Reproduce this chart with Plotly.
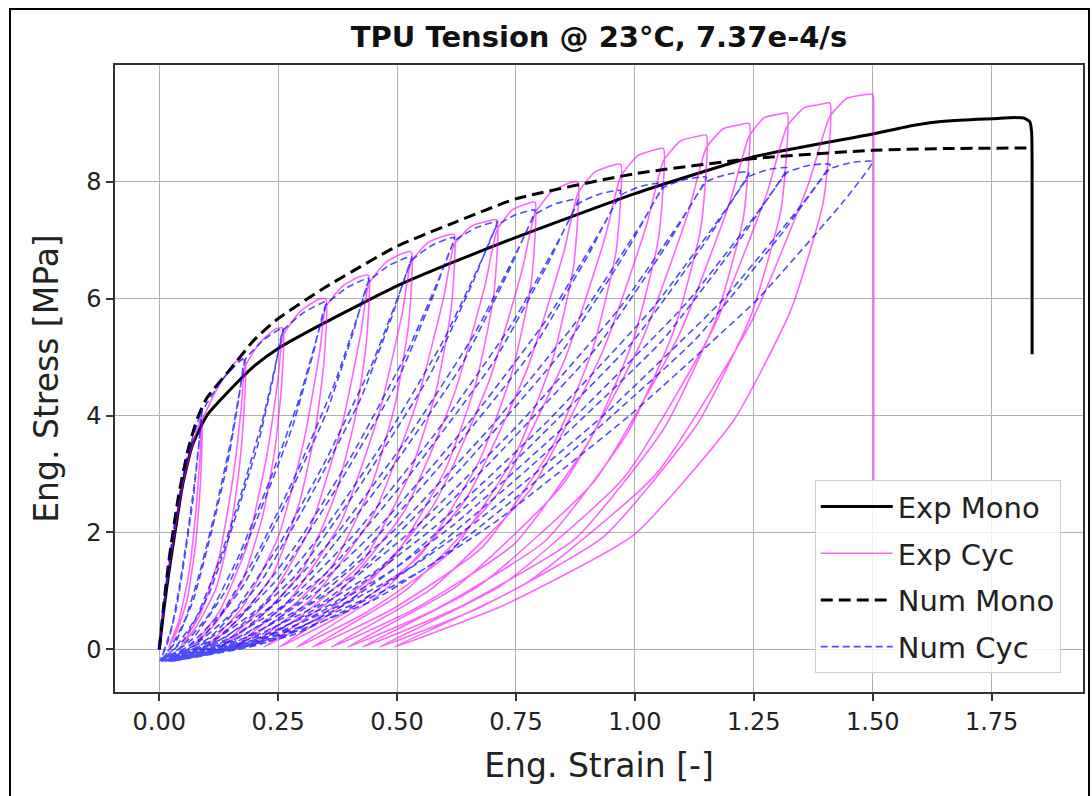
import plotly.graph_objects as go

# ---------------- data ----------------
exp_mono_strain = [0, 0.01, 0.02, 0.035, 0.05, 0.07, 0.1, 0.15, 0.2, 0.25, 0.35, 0.5, 0.61, 0.75,
                   1.0, 1.25, 1.5, 1.587, 1.657, 1.75, 1.80, 1.818, 1.830, 1.834, 1.835, 1.835]
exp_mono_stress = [0, 0.7, 1.3, 2.1, 2.85, 3.5, 4.0, 4.45, 4.85, 5.15, 5.6, 6.22, 6.6, 7.05,
                   7.8, 8.43, 8.82, 8.97, 9.04, 9.08, 9.1, 9.09, 9.03, 8.85, 8.2, 5.05]

num_mono_strain = [0, 0.01, 0.02, 0.04, 0.06, 0.08, 0.1, 0.15, 0.2, 0.25, 0.35, 0.5, 0.61, 0.75,
                   1.0, 1.25, 1.5, 1.65, 1.835]
num_mono_stress = [0, 0.8, 1.5, 2.6, 3.4, 3.95, 4.3, 4.8, 5.3, 5.66, 6.2, 6.9, 7.27, 7.71,
                   8.14, 8.4, 8.54, 8.57, 8.58]

# experimental cyclic test: one row per cycle (reload, envelope, peak, unload)
exp_cyc_strain = [
    [0, 0.01, 0.02, 0.035, 0.05, 0.07, 0.09, 0.0890, 0.0837, 0.0746, 0.0585, 0.0375, 0.020],
    [0.041, 0.062, 0.0774, 0.0865, 0.09, 0.126, 0.162, 0.18, 0.1780, 0.1679, 0.1503, 0.1193, 0.0788, 0.045],
    [0.0855, 0.126, 0.1557, 0.1733, 0.18, 0.212, 0.244, 0.26, 0.2572, 0.2429, 0.2182, 0.1745, 0.1175, 0.070],
    [0.127, 0.184, 0.2258, 0.2505, 0.26, 0.296, 0.332, 0.35, 0.3463, 0.3275, 0.2950, 0.2375, 0.1625, 0.100],
    [0.175, 0.25, 0.305, 0.3375, 0.35, 0.386, 0.422, 0.44, 0.4354, 0.4121, 0.3718, 0.3005, 0.2075, 0.130],
    [0.223, 0.316, 0.3842, 0.4245, 0.44, 0.476, 0.512, 0.53, 0.5245, 0.4967, 0.4486, 0.3635, 0.2525, 0.160],
    [0.271, 0.382, 0.4634, 0.5115, 0.53, 0.566, 0.602, 0.62, 0.6136, 0.5813, 0.5254, 0.4265, 0.2975, 0.190],
    [0.319, 0.448, 0.5426, 0.5985, 0.62, 0.656, 0.692, 0.71, 0.7027, 0.6659, 0.6022, 0.4895, 0.3425, 0.220],
    [0.367, 0.514, 0.6218, 0.6855, 0.71, 0.742, 0.774, 0.79, 0.7819, 0.7417, 0.6719, 0.5484, 0.3873, 0.253],
    [0.4141, 0.5752, 0.6933, 0.7632, 0.79, 0.826, 0.862, 0.88, 0.8711, 0.8268, 0.7500, 0.6141, 0.4368, 0.289],
    [0.4663, 0.6436, 0.7736, 0.8505, 0.88, 0.916, 0.952, 0.97, 0.9603, 0.9117, 0.8274, 0.6784, 0.4840, 0.322],
    [0.5164, 0.7108, 0.8534, 0.9376, 0.97, 1.006, 1.042, 1.06, 1.0495, 0.9972, 0.9064, 0.7459, 0.5365, 0.362],
    [0.5714, 0.7808, 0.9344, 1.0251, 1.06, 1.096, 1.132, 1.15, 1.1387, 1.0821, 0.9841, 0.8107, 0.5845, 0.396],
    [0.6222, 0.8484, 1.0143, 1.1123, 1.15, 1.186, 1.222, 1.24, 1.2278, 1.1668, 1.0611, 0.8742, 0.6303, 0.427],
    [0.6709, 0.9148, 1.0937, 1.1994, 1.24, 1.272, 1.304, 1.32, 1.3072, 1.2429, 1.1315, 0.9344, 0.6773, 0.463],
    [0.7201, 0.9772, 1.1657, 1.2772, 1.32, 1.356, 1.392, 1.41, 1.3963, 1.3276, 1.2085, 0.9978, 0.7230, 0.494],
    [0.7688, 1.0436, 1.2451, 1.3642, 1.41, 1.446, 1.482, 1.50, 1.502, 1.502],
]
exp_cyc_stress = [
    [0, 0.75, 1.35, 2.15, 2.85, 3.5, 4.0, 3.28, 2.48, 1.68, 0.84, 0.32, 0.04],
    [0.48, 1.28, 2.40, 3.40, 3.90, 4.52, 4.93, 4.95, 4.06, 3.07, 2.08, 1.04, 0.40, 0.04],
    [0.59, 1.58, 2.97, 4.21, 4.83, 5.25, 5.48, 5.50, 4.51, 3.41, 2.31, 1.16, 0.44, 0.04],
    [0.66, 1.76, 3.30, 4.68, 5.36, 5.78, 5.98, 6.00, 4.92, 3.72, 2.52, 1.26, 0.48, 0.04],
    [0.72, 1.92, 3.60, 5.10, 5.85, 6.22, 6.38, 6.40, 5.25, 3.97, 2.69, 1.34, 0.51, 0.04],
    [0.77, 2.05, 3.84, 5.44, 6.24, 6.62, 6.78, 6.80, 5.58, 4.22, 2.86, 1.43, 0.54, 0.04],
    [0.82, 2.18, 4.08, 5.78, 6.63, 6.97, 7.08, 7.10, 5.82, 4.40, 2.98, 1.49, 0.57, 0.04],
    [0.85, 2.27, 4.26, 6.04, 6.92, 7.24, 7.33, 7.35, 6.03, 4.56, 3.09, 1.54, 0.59, 0.04],
    [0.88, 2.35, 4.41, 6.25, 7.17, 7.52, 7.63, 7.65, 6.27, 4.74, 3.21, 1.61, 0.61, 0.04],
    [0.92, 2.45, 4.59, 6.50, 7.46, 7.84, 7.98, 8.00, 6.56, 4.96, 3.36, 1.68, 0.64, 0.04],
    [0.96, 2.56, 4.80, 6.80, 7.80, 8.17, 8.28, 8.30, 6.81, 5.15, 3.49, 1.74, 0.66, 0.04],
    [1.00, 2.66, 4.98, 7.06, 8.09, 8.45, 8.55, 8.57, 7.03, 5.31, 3.60, 1.80, 0.69, 0.04],
    [1.03, 2.74, 5.14, 7.28, 8.36, 8.70, 8.78, 8.80, 7.22, 5.46, 3.70, 1.85, 0.70, 0.04],
    [1.06, 2.82, 5.28, 7.48, 8.58, 8.91, 8.98, 9.00, 7.38, 5.58, 3.78, 1.89, 0.72, 0.04],
    [1.08, 2.88, 5.40, 7.65, 8.78, 9.10, 9.16, 9.18, 7.53, 5.69, 3.86, 1.93, 0.73, 0.04],
    [1.10, 2.94, 5.51, 7.80, 8.95, 9.27, 9.33, 9.35, 7.67, 5.80, 3.93, 1.96, 0.75, 0.04],
    [1.12, 2.99, 5.61, 7.95, 9.12, 9.43, 9.49, 9.50, 9.30, 2.90],
]

# numerical cyclic simulation: one row per cycle
num_cyc_strain = [
    [0, 0.01, 0.02, 0.04, 0.06, 0.09, 0.0864, 0.0756, 0.0594, 0.0423, 0.027, 0.0126, 0.0018],
    [0.018, 0.036, 0.054, 0.072, 0.0837, 0.09, 0.135, 0.18, 0.1728, 0.1512, 0.1188, 0.0846, 0.054, 0.0252, 0.0036],
    [0.036, 0.072, 0.108, 0.144, 0.1674, 0.18, 0.22, 0.26, 0.2496, 0.2184, 0.1716, 0.1222, 0.078, 0.0364, 0.0052],
    [0.052, 0.104, 0.156, 0.208, 0.2418, 0.26, 0.305, 0.35, 0.336, 0.294, 0.231, 0.1645, 0.105, 0.049, 0.007],
    [0.07, 0.14, 0.21, 0.28, 0.3255, 0.35, 0.395, 0.44, 0.4224, 0.3696, 0.2904, 0.2068, 0.132, 0.0616, 0.0088],
    [0.088, 0.176, 0.264, 0.352, 0.4092, 0.44, 0.485, 0.53, 0.5088, 0.4452, 0.3498, 0.2491, 0.159, 0.0742, 0.0106],
    [0.106, 0.212, 0.318, 0.424, 0.4929, 0.53, 0.575, 0.62, 0.5952, 0.5208, 0.4092, 0.2914, 0.186, 0.0868, 0.0124],
    [0.124, 0.248, 0.372, 0.496, 0.5766, 0.62, 0.665, 0.71, 0.6816, 0.5964, 0.4686, 0.3337, 0.213, 0.0994, 0.0142],
    [0.142, 0.284, 0.426, 0.568, 0.6603, 0.71, 0.75, 0.79, 0.7584, 0.6636, 0.5214, 0.3713, 0.237, 0.1106, 0.0158],
    [0.158, 0.316, 0.474, 0.632, 0.7347, 0.79, 0.835, 0.88, 0.8448, 0.7392, 0.5808, 0.4136, 0.264, 0.1232, 0.0176],
    [0.176, 0.352, 0.528, 0.704, 0.8184, 0.88, 0.925, 0.97, 0.9312, 0.8148, 0.6402, 0.4559, 0.291, 0.1358, 0.0194],
    [0.194, 0.388, 0.582, 0.776, 0.9021, 0.97, 1.015, 1.06, 1.0176, 0.8904, 0.6996, 0.4982, 0.318, 0.1484, 0.0212],
    [0.212, 0.424, 0.636, 0.848, 0.9858, 1.06, 1.105, 1.15, 1.104, 0.966, 0.759, 0.5405, 0.345, 0.161, 0.023],
    [0.23, 0.46, 0.69, 0.92, 1.0695, 1.15, 1.195, 1.24, 1.1904, 1.0416, 0.8184, 0.5828, 0.372, 0.1736, 0.0248],
    [0.248, 0.496, 0.744, 0.992, 1.1532, 1.24, 1.28, 1.32, 1.2672, 1.1088, 0.8712, 0.6204, 0.396, 0.1848, 0.0264],
    [0.264, 0.528, 0.792, 1.056, 1.2276, 1.32, 1.365, 1.41, 1.3536, 1.1844, 0.9306, 0.6627, 0.423, 0.1974, 0.0282],
    [0.282, 0.564, 0.846, 1.128, 1.3113, 1.41, 1.455, 1.50, 1.44, 1.26, 0.99, 0.705, 0.45, 0.21, 0.03],
]
num_cyc_stress = [
    [0, 0.8, 1.5, 2.55, 3.35, 4.10, 3.77, 2.95, 1.97, 1.07, 0.41, 0.04, -0.2],
    [0.12, 0.70, 1.60, 2.62, 3.53, 4.06, 4.64, 5.00, 4.60, 3.60, 2.40, 1.30, 0.50, 0.05, -0.2],
    [0.15, 0.85, 1.95, 3.20, 4.30, 4.95, 5.30, 5.50, 5.06, 3.96, 2.64, 1.43, 0.55, 0.06, -0.2],
    [0.17, 0.94, 2.15, 3.52, 4.73, 5.45, 5.77, 5.95, 5.47, 4.28, 2.86, 1.55, 0.60, 0.06, -0.2],
    [0.18, 1.01, 2.32, 3.81, 5.12, 5.89, 6.19, 6.35, 5.84, 4.57, 3.05, 1.65, 0.64, 0.06, -0.2],
    [0.19, 1.08, 2.48, 4.06, 5.46, 6.29, 6.58, 6.72, 6.18, 4.84, 3.23, 1.75, 0.67, 0.07, -0.2],
    [0.20, 1.14, 2.62, 4.30, 5.78, 6.65, 6.92, 7.05, 6.49, 5.08, 3.38, 1.83, 0.71, 0.07, -0.2],
    [0.21, 1.20, 2.75, 4.51, 6.06, 6.98, 7.21, 7.32, 6.73, 5.27, 3.51, 1.90, 0.73, 0.07, -0.2],
    [0.22, 1.24, 2.85, 4.68, 6.30, 7.25, 7.44, 7.52, 6.92, 5.41, 3.61, 1.96, 0.75, 0.08, -0.2],
    [0.23, 1.28, 2.93, 4.81, 6.47, 7.44, 7.63, 7.70, 7.08, 5.54, 3.70, 2.00, 0.77, 0.08, -0.2],
    [0.23, 1.31, 3.00, 4.93, 6.62, 7.62, 7.79, 7.85, 7.22, 5.65, 3.77, 2.04, 0.79, 0.08, -0.2],
    [0.24, 1.33, 3.06, 5.02, 6.75, 7.77, 7.93, 7.98, 7.34, 5.75, 3.83, 2.07, 0.80, 0.08, -0.2],
    [0.24, 1.36, 3.11, 5.11, 6.86, 7.90, 8.04, 8.08, 7.43, 5.82, 3.88, 2.10, 0.81, 0.08, -0.2],
    [0.24, 1.37, 3.15, 5.17, 6.95, 8.00, 8.13, 8.17, 7.52, 5.88, 3.92, 2.12, 0.82, 0.08, -0.2],
    [0.25, 1.39, 3.19, 5.23, 7.03, 8.09, 8.21, 8.24, 7.58, 5.93, 3.96, 2.14, 0.82, 0.08, -0.2],
    [0.25, 1.40, 3.21, 5.27, 7.09, 8.16, 8.28, 8.30, 7.64, 5.98, 3.98, 2.16, 0.83, 0.08, -0.2],
    [0.25, 1.41, 3.24, 5.31, 7.14, 8.22, 8.33, 8.35, 7.68, 6.01, 4.01, 2.17, 0.84, 0.08, -0.2],
]

x_tick_vals = [0.0, 0.25, 0.5, 0.75, 1.0, 1.25, 1.5, 1.75]
x_tick_text = ["0.00", "0.25", "0.50", "0.75", "1.00", "1.25", "1.50", "1.75"]
y_tick_vals = [0, 2, 4, 6, 8]
y_tick_text = ["0", "2", "4", "6", "8"]

series_names = ["Exp Mono", "Exp Cyc", "Num Mono", "Num Cyc"]
title_text = "TPU Tension @ 23°C, 7.37e-4/s"


def flatten(rows):
    return [v for row in rows for v in row]


FONT = "DejaVu Sans"
fig = go.Figure()

fig.add_trace(go.Scatter(x=exp_mono_strain, y=exp_mono_stress, mode="lines",
                         name=series_names[0], legendgroup="a",
                         line=dict(color="black", width=3, shape="spline", smoothing=0.5)))
fig.add_trace(go.Scatter(x=flatten(exp_cyc_strain), y=flatten(exp_cyc_stress), mode="lines",
                         name=series_names[1], legendgroup="b",
                         line=dict(color="rgba(255,0,255,0.6)", width=1.6,
                                   shape="spline", smoothing=0.5)))
fig.add_trace(go.Scatter(x=num_mono_strain, y=num_mono_stress, mode="lines",
                         name=series_names[2], legendgroup="c",
                         line=dict(color="black", width=3, dash="12px,6px",
                                   shape="spline", smoothing=0.5)))
fig.add_trace(go.Scatter(x=flatten(num_cyc_strain), y=flatten(num_cyc_stress), mode="lines",
                         name=series_names[3], legendgroup="d",
                         line=dict(color="rgba(0,0,255,0.7)", width=1.6, dash="7px,4px",
                                   shape="spline", smoothing=0.4)))

L, R, T, B = 115, 9, 65, 104
W, H = 1092, 796
pw, ph = W - L - R, H - T - B

axis_common = dict(
    showgrid=True, gridcolor="#b0b0b0", gridwidth=1.2,
    zeroline=False, showline=True, linecolor="#333333", linewidth=1.5, mirror=True,
    ticks="outside", ticklen=7, tickwidth=1.5, tickcolor="#333333", automargin=False,
    tickfont=dict(family=FONT, size=24, color="#222222"),
)

fig.update_layout(
    width=W, height=H,
    margin=dict(l=L, r=R, t=T, b=B, autoexpand=False),
    paper_bgcolor="white", plot_bgcolor="white",
    title=dict(text="<b>" + title_text + "</b>", x=0.5, xref="paper",
               y=1 - 37 / H, yref="container", yanchor="middle", xanchor="center",
               font=dict(family=FONT, size=29, color="#111111")),
    xaxis=dict(range=[-0.093, 1.942], tickvals=x_tick_vals, ticktext=x_tick_text,
               title=dict(text="Eng. Strain [-]", standoff=19,
                          font=dict(family=FONT, size=33, color="#222222")),
               **axis_common),
    yaxis=dict(range=[-0.73, 10.0], tickvals=y_tick_vals, ticktext=y_tick_text,
               title=dict(text="Eng. Stress [MPa]", standoff=18,
                          font=dict(family=FONT, size=33, color="#222222")),
               **axis_common),
    legend=dict(x=0.977, y=0.030, xanchor="right", yanchor="bottom",
                bgcolor="rgba(255,255,255,0.82)", bordercolor="#cccccc", borderwidth=1,
                font=dict(family=FONT, size=29, color="#222222"),
                tracegroupgap=6, itemwidth=72),
    showlegend=True,
)

# outer picture frame
fig.add_shape(type="rect", xref="paper", yref="paper",
              x0=(10 - L) / pw, x1=(1089 - L) / pw,
              y0=-0.3, y1=(H - 9 - B) / ph,
              line=dict(color="black", width=2), fillcolor="rgba(0,0,0,0)", layer="below")

fig.write_html("out.html", config={"displayModeBar": False},
               post_script="document.body.style.margin='0';document.body.style.padding='0';")
